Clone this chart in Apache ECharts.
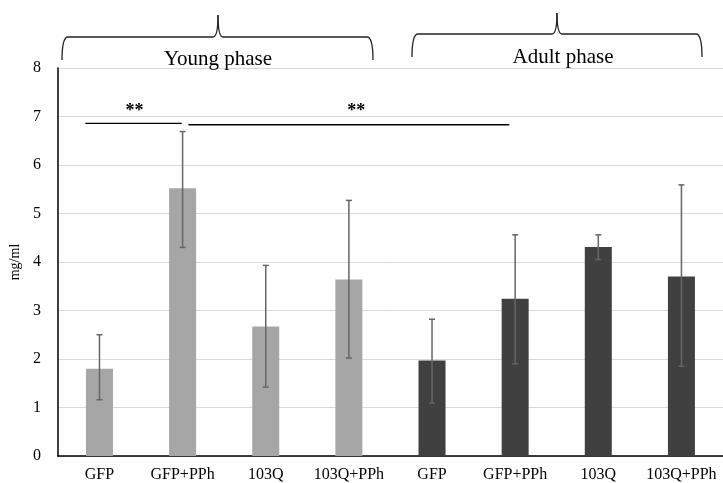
<!DOCTYPE html>
<html>
<head>
<meta charset="utf-8">
<script src="https://cdn.jsdelivr.net/npm/echarts@6/dist/echarts.min.js"></script>
<style>
  html, body { margin: 0; padding: 0; background: #fff; }
  #main { width: 723px; height: 483px; }
</style>
</head>
<body>
<div id="main"></div>
<script>
// groups and values
var categories = ['GFP', 'GFP+PPh', '103Q', '103Q+PPh', 'GFP', 'GFP+PPh', '103Q', '103Q+PPh'];
var youngMean = [1.80, 5.52, 2.67, 3.64];
var youngHigh = [2.50, 6.69, 3.93, 5.27];
var youngLow = [1.16, 4.30, 1.42, 2.02];
var adultMean = [1.97, 3.24, 4.31, 3.70];
var adultHigh = [2.82, 4.56, 4.56, 5.59];
var adultLow = [1.09, 1.90, 4.05, 1.85];
var yTicks = [0, 1, 2, 3, 4, 5, 6, 7, 8];
// significance bars: [from index, to index, y value]
var sigBars = [
  [-0.17, 0.99, 6.86],
  [1.07, 4.93, 6.83]
];

var font = 'Liberation Serif';
var chart = echarts.init(document.getElementById('main'));

var means = youngMean.concat(adultMean);
var highs = youngHigh.concat(adultHigh);
var lows = youngLow.concat(adultLow);

var barData = means.map(function (v, i) {
  return { value: v, itemStyle: { color: i < youngMean.length ? '#a6a6a6' : '#404040' } };
});
var errData = means.map(function (v, i) {
  return [i, lows[i], highs[i]];
});

var option = {
  backgroundColor: '#fff',
  animation: false,
  grid: {
    left: 54,
    top: 68,
    width: 677,
    height: 388
  },
  xAxis: {
    type: 'category',
    data: categories,
    axisLine: { lineStyle: { color: '#000', width: 1.5 } },
    axisTick: { show: false },
    axisLabel: {
      color: '#000',
      fontFamily: font,
      fontSize: 16,
      margin: 11,
      interval: 0
    }
  },
  yAxis: {
    type: 'value',
    min: yTicks[0],
    max: yTicks[yTicks.length - 1],
    interval: 1,
    name: 'mg/ml',
    nameLocation: 'middle',
    nameRotate: 90,
    nameGap: 35,
    nameTextStyle: { color: '#000', fontFamily: font, fontSize: 14 },
    axisLine: { show: true, lineStyle: { color: '#000', width: 1.5 } },
    axisTick: { show: false },
    splitLine: { lineStyle: { color: '#d9d9d9', width: 1 } },
    axisLabel: {
      color: '#000',
      fontFamily: font,
      fontSize: 16,
      margin: 17
    }
  },
  series: [
    {
      type: 'bar',
      data: barData,
      barWidth: 27
    },
    {
      type: 'custom',
      data: errData,
      z: 5,
      renderItem: function (params, api) {
        var x = api.value(0);
        var lo = api.coord([x, api.value(1)]);
        var hi = api.coord([x, api.value(2)]);
        var cap = 3;
        var style = { stroke: '#666', lineWidth: 1.5 };
        return {
          type: 'group',
          children: [
            { type: 'line', shape: { x1: hi[0], y1: hi[1], x2: lo[0], y2: lo[1] }, style: style },
            { type: 'line', shape: { x1: hi[0] - cap, y1: hi[1], x2: hi[0] + cap, y2: hi[1] }, style: style },
            { type: 'line', shape: { x1: lo[0] - cap, y1: lo[1], x2: lo[0] + cap, y2: lo[1] }, style: style }
          ]
        };
      }
    }
  ]
};
chart.setOption(option);

// pixel helpers from data coords
function px(i, v) {
  var a = chart.convertToPixel({ gridIndex: 0 }, [0, v]);
  var b = chart.convertToPixel({ gridIndex: 0 }, [1, v]);
  return [a[0] + (b[0] - a[0]) * i, a[1]];
}

// curly brace built from lines and quadratic curves
function brace(x1, x2, xc, yb, yh, yp) {
  var st = { stroke: '#222', lineWidth: 1.3, fill: null };
  var r = 6, k = 5;
  return [
    { type: 'bezierCurve', shape: { x1: x1, y1: yb, x2: x1 + r, y2: yh, cpx1: x1, cpy1: yh }, style: st },
    { type: 'line', shape: { x1: x1 + r, y1: yh, x2: xc - k, y2: yh }, style: st },
    { type: 'bezierCurve', shape: { x1: xc - k, y1: yh, x2: xc, y2: yp, cpx1: xc, cpy1: yh }, style: st },
    { type: 'bezierCurve', shape: { x1: xc, y1: yp, x2: xc + k, y2: yh, cpx1: xc, cpy1: yh }, style: st },
    { type: 'line', shape: { x1: xc + k, y1: yh, x2: x2 - r, y2: yh }, style: st },
    { type: 'bezierCurve', shape: { x1: x2 - r, y1: yh, x2: x2, y2: yb, cpx1: x2, cpy1: yh }, style: st }
  ];
}

var graphics = [];
sigBars.forEach(function (s) {
  var p1 = px(s[0], s[2]);
  var p2 = px(s[1], s[2]);
  graphics.push({
    type: 'line',
    shape: { x1: p1[0], y1: p1[1], x2: p2[0], y2: p2[1] },
    style: { stroke: '#000', lineWidth: 1.3 }
  });
});
var star1 = px(0.42, 7.1), star2 = px(3.09, 7.1);
[star1, star2].forEach(function (p) {
  graphics.push({
    type: 'text',
    x: p[0], y: p[1],
    style: { text: '**', font: 'bold 18px ' + font, fill: '#000', align: 'center', verticalAlign: 'middle' }
  });
});

graphics = graphics.concat(brace(62, 373, 218, 60, 37, 15));
graphics = graphics.concat(brace(412, 702, 557, 57, 34, 13));
graphics.push({
  type: 'text', x: 218, y: 59,
  style: { text: 'Young phase', font: '21px ' + font, fill: '#000', align: 'center', verticalAlign: 'middle' }
});
graphics.push({
  type: 'text', x: 563, y: 57,
  style: { text: 'Adult phase', font: '21px ' + font, fill: '#000', align: 'center', verticalAlign: 'middle' }
});

chart.setOption({ graphic: graphics });
</script>
</body>
</html>
